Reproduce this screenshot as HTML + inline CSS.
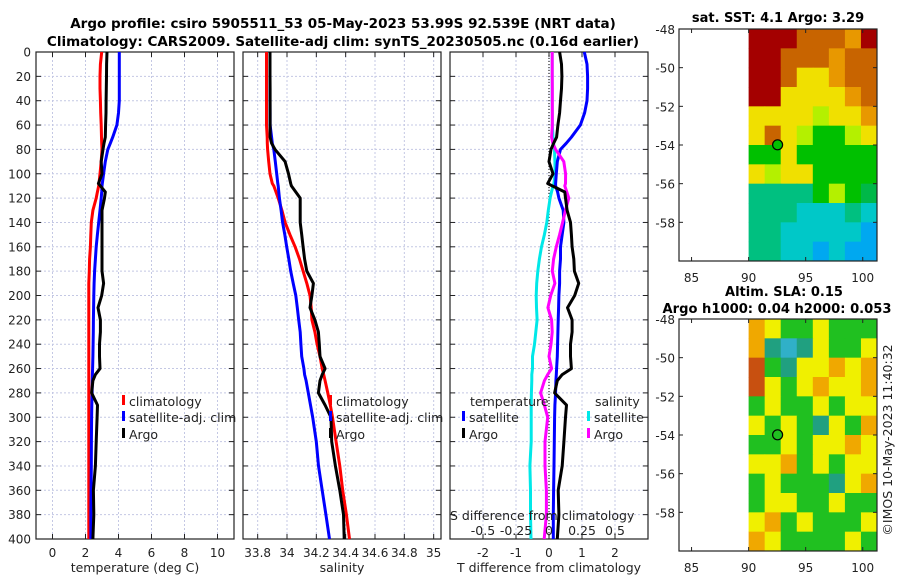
<!DOCTYPE html>
<html><head><meta charset="utf-8"><style>
body{margin:0;background:#fff;}
svg{display:block;font-family:"DejaVu Sans","Liberation Sans",sans-serif;}
</style></head><body>
<svg id="s" width="900" height="580" xmlns="http://www.w3.org/2000/svg"></svg>
<script>
const depths=[0,10,20,30,40,50,60,70,75,80,90,100,108,110,115,120,130,140,150,160,170,180,190,200,210,220,230,240,250,260,265,270,280,290,300,320,340,360,380,400];
const tempArgo=[3.3,3.28,3.27,3.26,3.25,3.24,3.22,3.2,3.12,3.06,2.95,3.0,2.78,2.9,3.2,3.15,3.0,3.0,3.0,3.0,3.0,3.0,3.1,2.98,2.76,2.9,2.9,2.85,2.85,2.88,2.6,2.45,2.37,2.73,2.7,2.65,2.6,2.48,2.5,2.45];
const tempClim=[2.98,2.9,2.88,2.88,2.9,2.92,2.95,2.97,2.98,3.0,2.95,2.88,2.82,2.8,2.72,2.65,2.45,2.35,2.32,2.3,2.25,2.23,2.2,2.2,2.2,2.2,2.2,2.2,2.2,2.2,2.2,2.2,2.2,2.2,2.2,2.2,2.2,2.2,2.2,2.2];
const tempSat=[4.05,4.05,4.05,4.05,4.05,4.0,3.9,3.65,3.5,3.35,3.2,3.1,3.02,3.0,2.98,2.95,2.88,2.8,2.72,2.65,2.6,2.55,2.52,2.5,2.49,2.48,2.47,2.46,2.45,2.43,2.42,2.41,2.4,2.38,2.37,2.36,2.35,2.34,2.33,2.33];
const salArgo=[33.884,33.884,33.884,33.885,33.885,33.885,33.885,33.885,33.895,33.918,33.987,34.01,34.025,34.03,34.06,34.09,34.09,34.09,34.1,34.11,34.12,34.135,34.18,34.17,34.157,34.19,34.214,34.22,34.225,34.26,34.24,34.225,34.214,34.26,34.3,34.305,34.33,34.36,34.385,34.39];
const salClim=[33.86,33.86,33.86,33.86,33.86,33.86,33.86,33.865,33.866,33.868,33.875,33.884,33.9,33.91,33.925,33.94,33.965,33.987,34.02,34.055,34.085,34.11,34.135,34.157,34.165,34.17,34.19,34.205,34.225,34.24,34.25,34.26,34.278,34.295,34.31,34.335,34.36,34.38,34.405,34.426];
const salSat=[33.884,33.884,33.884,33.884,33.884,33.885,33.885,33.895,33.9,33.91,33.92,33.93,33.937,33.94,33.944,33.948,33.96,33.97,33.985,33.998,34.012,34.025,34.042,34.06,34.07,34.08,34.09,34.095,34.1,34.115,34.12,34.13,34.145,34.16,34.175,34.2,34.215,34.24,34.265,34.29];
const depthTicks=[0,20,40,60,80,100,120,140,160,180,200,220,240,260,280,300,320,340,360,380,400];
const tTicks=[0,2,4,6,8,10];
const sTicks=[33.8,34,34.2,34.4,34.6,34.8,35];
const dTTicks=[-2,-1,0,1,2];
const dSTicks=[-0.5,-0.25,0,0.25,0.5];
const latTicks=[-48,-50,-52,-54,-56,-58];
const lonTicks=[85,90,95,100];
const sstRows=["RRROOOoR","RROOOoOO","RROYYoOO","RRYYYYoO","YYYYLYYo","YOYLGGLY","GGYGGGGG","YLYYGGGG","TTTTGLGg","TTTCCCTC","TTCCCCCB","TTCCBCBB"];
const slaRows=["OYGGYGGG","OTCTYGGY","RGTYYOYO","RYGYOYYO","GYGGYGYY","YGYGTYGO","GGYGYYOY","YYOGYGYY","GYGGGTYO","GYYGGYGG","YOGYGGGY","OYGGGGYG"];
const sstPal={R:"#a40000",O:"#c86400",o:"#e89800",Y:"#f0e000",L:"#b4f000",G:"#00c000",g:"#00b848",T:"#00c080",C:"#00c8c8",B:"#00a8f0"};
const slaPal={Y:"#f0f000",G:"#20c020",O:"#f0a800",T:"#20a080",C:"#30b0c8",R:"#c85010"};
const argoLon=92.54, argoLat=-53.99;

const S=document.getElementById('s');
const NS="http://www.w3.org/2000/svg";
function mk(tag,attrs,parent){const e=document.createElementNS(NS,tag);for(const k in attrs)e.setAttribute(k,attrs[k]);(parent||S).appendChild(e);return e;}
function txt(x,y,str,o){const t=mk('text',Object.assign({x:x,y:y,'font-size':12,fill:'#222'},o||{}));t.textContent=str;return t;}
const Y0=52,Y1=539;
const yD=d=>Y0+(d/400)*(Y1-Y0);
const panels=[{x0:36,x1:234,min:-1,max:11},{x0:243,x1:441,min:33.7,max:35.05},{x0:450,x1:648,min:-3,max:3}];
function xf(p,v){return p.x0+(v-p.min)/(p.max-p.min)*(p.x1-p.x0);}
function line(p,vals,color,name,w){
  let d='';vals.forEach((v,i)=>{d+=(i?'L':'M')+xf(p,v).toFixed(1)+','+yD(depths[i]).toFixed(1);});
  const e=mk('path',{d:d,fill:'none',stroke:color,'stroke-width':w||3,'stroke-linejoin':'round'});
  
  
}
txt(343,28,'Argo profile: csiro 5905511_53 05-May-2023 53.99S 92.539E (NRT data)',{'text-anchor':'middle','font-weight':'bold','font-size':13.5,fill:'#000',});
txt(343,46,'Climatology: CARS2009. Satellite-adj clim: synTS_20230505.nc (0.16d earlier)',{'text-anchor':'middle','font-weight':'bold','font-size':13.5,fill:'#000',});
panels.forEach((p,pi)=>{
  const g=mk('g',{});
  
  
  const xt=pi==0?tTicks:pi==1?sTicks:dTTicks;
  xt.forEach(v=>{const x=xf(p,v);mk('line',{x1:x,x2:x,y1:Y0,y2:Y1,stroke:'#c4c8e4','stroke-dasharray':'2,2','stroke-width':1},g);
    mk('line',{x1:x,x2:x,y1:Y1,y2:Y1-5,stroke:'#222'},g);mk('line',{x1:x,x2:x,y1:Y0,y2:Y0+5,stroke:'#222'},g);
    txt(x,557,String(v),{'text-anchor':'middle','font-size':12,});});
  depthTicks.forEach(d=>{const y=yD(d);mk('line',{x1:p.x0,x2:p.x1,y1:y,y2:y,stroke:'#c4c8e4','stroke-dasharray':'2,2'},g);
    mk('line',{x1:p.x0,x2:p.x0+5,y1:y,y2:y,stroke:'#222'},g);mk('line',{x1:p.x1,x2:p.x1-5,y1:y,y2:y,stroke:'#222'},g);
    if(pi==0)txt(31,y+4.5,String(d),{'text-anchor':'end','font-size':12,});});
  mk('rect',{x:p.x0,y:Y0,width:p.x1-p.x0,height:Y1-Y0,fill:'none',stroke:'#222','stroke-width':1.2},g);
});
txt(135,572,'temperature (deg C)',{'text-anchor':'middle','font-size':12.5,});
txt(342,572,'salinity',{'text-anchor':'middle','font-size':12.5,});
txt(549,572,'T difference from climatology',{'text-anchor':'middle','font-size':12.5,});
mk('line',{x1:549,x2:549,y1:Y0,y2:Y1,stroke:'#333','stroke-dasharray':'1,2','stroke-width':1.3,});
const P=panels;
line(P[0],tempClim,'#ff0000','temp-climatology-line');
line(P[0],tempSat,'#0000ff','temp-satellite-line');
line(P[0],tempArgo,'#000','temp-argo-line');
line(P[1],salClim,'#ff0000','sal-climatology-line');
line(P[1],salSat,'#0000ff','sal-satellite-line');
line(P[1],salArgo,'#000','sal-argo-line');
const dTs=tempSat.map((v,i)=>v-tempClim[i]);
const dTa=tempArgo.map((v,i)=>v-tempClim[i]);
const dSs=salSat.map((v,i)=>(v-salClim[i])*4);
const dSa=salArgo.map((v,i)=>(v-salClim[i])*4);
line(P[2],dSs,'#00e8e8','sdiff-satellite-line');
line(P[2],dTs,'#0000ff','tdiff-satellite-line');
line(P[2],dSa,'#ff00ff','sdiff-argo-line');
line(P[2],dTa,'#000','tdiff-argo-line');
function leg(x,y,color,label,name){mk('rect',{x:x,y:y-11,width:3,height:10,fill:color});txt(x+7,y,label,{'font-size':12.5,});}
leg(122,406,'#ff0000','climatology','legend-climatology');
leg(122,422,'#0000ff','satellite-adj. clim','legend-satellite');
leg(122,439,'#000','Argo','legend-argo');
leg(329,406,'#ff0000','climatology','legend-climatology-2');
leg(329,422,'#0000ff','satellite-adj. clim','legend-satellite-2');
leg(329,439,'#000','Argo','legend-argo-2');
txt(470,406,'temperature',{'font-size':12.5,});
leg(462,422,'#0000ff','satellite','legend-t-satellite');
leg(462,439,'#000','Argo','legend-t-argo');
txt(595,406,'salinity',{'font-size':12.5,});
leg(587,422,'#00e8e8','satellite','legend-s-satellite');
leg(587,439,'#ff00ff','Argo','legend-s-argo');
txt(450,520,'S difference from climatology',{'font-size':12.5,});
dSTicks.forEach(v=>txt(549+v*132,535,String(v),{'text-anchor':'middle','font-size':12.5,}));
function map(top,rows,pal,name){
  const L=679,R=877,B=top+232;
  const lx=v=>L+(v-83.9)/(101.25-83.9)*(R-L);
  const ly=v=>top+(-48-v)/12*(B-top);
  const g=mk('g',{});
  const cw=(R-lx(90))/8, ch=(B-top)/12;
  rows.forEach((r,ri)=>{for(let c=0;c<8;c++)mk('rect',{x:lx(90)+c*cw,y:top+ri*ch,width:cw+0.5,height:ch+0.5,fill:pal[r[c]]},g);});
  mk('rect',{x:L,y:top,width:R-L,height:B-top,fill:'none',stroke:'#222','stroke-width':1.2},g);
  latTicks.forEach(v=>{const y=ly(v);mk('line',{x1:L,x2:L+4,y1:y,y2:y,stroke:'#222'},g);mk('line',{x1:R,x2:R-4,y1:y,y2:y,stroke:'#222'},g);
    txt(675,y+5,String(v),{'text-anchor':'end','font-size':12,});});
  lonTicks.forEach(v=>{const x=lx(v);mk('line',{x1:x,x2:x,y1:B,y2:B-4,stroke:'#222'},g);mk('line',{x1:x,x2:x,y1:top,y2:top+4,stroke:'#222'},g);
    txt(x,B+21,String(v),{'text-anchor':'middle','font-size':12,});});
  mk('circle',{cx:lx(argoLon),cy:ly(argoLat),r:5,fill:pal.G,stroke:'#000','stroke-width':1.2,},g);
}
map(29,sstRows,sstPal,'sst-map');
map(319,slaRows,slaPal,'sla-map');
txt(778,22,'sat. SST: 4.1 Argo: 3.29',{'text-anchor':'middle','font-weight':'bold','font-size':13,fill:'#000',});
txt(784,296,'Altim. SLA: 0.15',{'text-anchor':'middle','font-weight':'bold','font-size':13,fill:'#000',});
txt(777,313,'Argo h1000: 0.04 h2000: 0.053',{'text-anchor':'middle','font-weight':'bold','font-size':13,fill:'#000',textLength:229,lengthAdjust:'spacingAndGlyphs',});
txt(0,0,'©IMOS 10-May-2023 11:40:32',{'text-anchor':'middle','font-size':12.5,transform:'translate(892,440) rotate(-90)',});
</script>
</body></html>
